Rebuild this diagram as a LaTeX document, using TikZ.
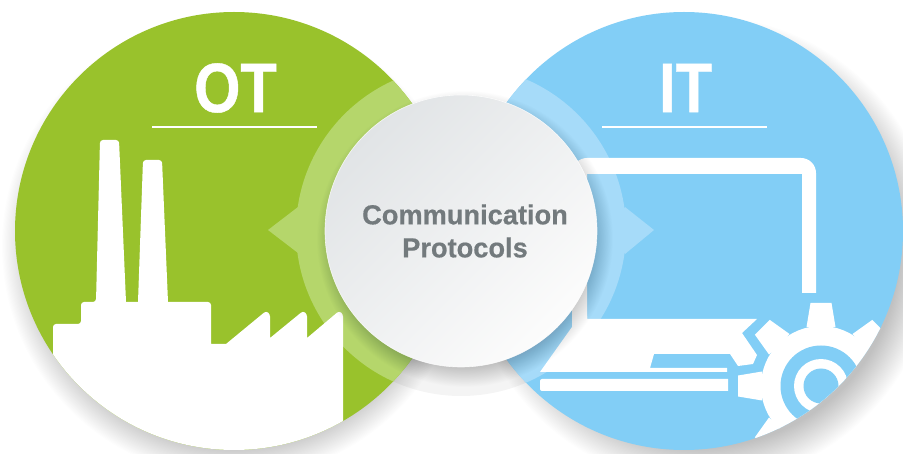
\documentclass[tikz,border=0pt]{standalone}
\usepackage{fontspec}
\setmainfont{Liberation Sans}
\newfontfamily\ttlfont[FakeStretch=.85,FakeBold=.6]{Liberation Sans}
\newfontfamily\midfont[FakeStretch=.99,FakeBold=.5]{Liberation Sans}
\definecolor{otgreen}{HTML}{99C22C}
\definecolor{otring}{HTML}{B5D66B}
\definecolor{itblue}{HTML}{82CEF6}
\definecolor{itring}{HTML}{A6DBF9}
\definecolor{midtext}{HTML}{737A7D}
\definecolor{midA}{HTML}{E1E4E6}
\definecolor{midB}{HTML}{FCFCFC}
\newcommand{\softshadow}[6]{%
  \foreach \i in {0,...,#5}{%
    \pgfmathsetmacro{\rr}{#3-(#3-#4)*\i/#5}%
    \fill[black,fill opacity=#6] (#1,#2) circle[radius=\rr];
  }}
\tikzset{
  titlelabel/.style={text=white,font=\ttlfont\bfseries\fontsize{70}{70}\selectfont,inner sep=0pt},
  midlabel/.style={text=midtext,font=\midfont\bfseries\fontsize{27.5}{33}\selectfont,align=center,inner sep=0pt},
  titlerule/.style={draw=white,line width=2pt},
  glyph/.style={fill=white}
}
\begin{document}
\begin{tikzpicture}[x=1pt,y=-1pt]
\fill[white] (0,0) rectangle (903,454);
\useasboundingbox (0,0) rectangle (903,454);
% outer shadows
\softshadow{234}{246}{232}{198}{30}{0.0095}
\softshadow{702}{250}{234}{198}{30}{0.0095}
% ring shadow on the white gap
\begin{scope}
  \clip (300,300) rectangle (620,454);
  \fill[black,fill opacity=.045] (461,231) circle[radius=165];
\end{scope}
% green disc
\fill[otgreen] (234,231) circle[radius=219];
\begin{scope}
  \clip (234,231) circle[radius=219];
  \fill[otring] (461,231) circle[radius=165];
  \fill[otring] (268,230) -- (298,207) -- (310,230) -- (298,253) -- cycle;
  % factory
  \fill[glyph] [rounded corners=3pt]
    (53,460) -- (53,324) -- (81,324) -- (81,302) -- (96,302)
    [sharp corners] -- (96,302) [rounded corners=3pt] -- (100,140) -- (119,140)
    [sharp corners] -- (126,302) -- (138,302) [rounded corners=3pt] -- (143,160) -- (162,160)
    [sharp corners] -- (168,302) [rounded corners=3pt] -- (211,302)
    [sharp corners] -- (211,344) -- (226,344) [rounded corners=2.5pt] -- (266,311)
    -- (270,314) [sharp corners] -- (270,338) [rounded corners=2.5pt] -- (303,311)
    -- (307,314) [sharp corners] -- (307,338) [rounded corners=2.5pt] -- (339,311)
    -- (343,314) [sharp corners] -- (343,460) -- cycle;
\end{scope}
% blue disc
\fill[itblue] (684,231) circle[radius=219];
\begin{scope}
  \clip (684,231) circle[radius=219];
  \fill[itring] (461,231) circle[radius=165];
  \fill[itring] (654,230) -- (625,207) -- (610,230) -- (625,254) -- cycle;
  % laptop
  \fill[glyph] [rounded corners=15pt] (572,319) -- (572,158) -- (816,158) [sharp corners] -- (816,293)
    -- (802,293) -- (802,174) -- (587,174) -- (587,319) -- cycle;
  \fill[glyph] (572,316) -- (572,327) -- (540,372) -- (727,372) -- (727,368) -- (650,368)
    -- (654,354) -- (730,354) -- (738,366) -- (753,364) -- (757,355) -- (742,333) -- (757,319)
    -- (587,319) -- (587,316) -- cycle;
  \fill[glyph] [rounded corners=2pt] (540,379) -- (540,391) -- (600,391) [sharp corners] -- (728,391) -- (728,379) -- (600,379) [rounded corners=2pt] -- cycle;
  % gear
  \fill[glyph] (821,386) circle[radius=60];
  \foreach \a in {0,45,...,315}{
    \fill[glyph,rotate around={\a:(821,386)}] (806.5,327) -- (810.5,303) -- (831.5,303) -- (835.5,327) -- cycle;
  }
  \fill[itblue] (821,386) circle[radius=40.5];
  \fill[glyph] (821,386) circle[radius=27];
  \fill[itblue] (821,386) circle[radius=17.5];
\end{scope}
% titles
\node[titlelabel] (ot) at (235.5,88) {OT};
\node[titlelabel] (it) at (685.5,88) {IT};
\draw[titlerule] (152,127) -- (317,127);
\draw[titlerule] (602,127) -- (767,127);
% centre
\softshadow{465}{239}{148}{124}{30}{0.009}
\shade[top color=midA,bottom color=midB,shading angle=45] (461,231) circle[radius=136];
\draw[white,line width=.6pt,opacity=.8] (461,231) circle[radius=136];
\node[midlabel] (proto) at (465,231) {Communication\\Protocols};
\end{tikzpicture}
\end{document}
